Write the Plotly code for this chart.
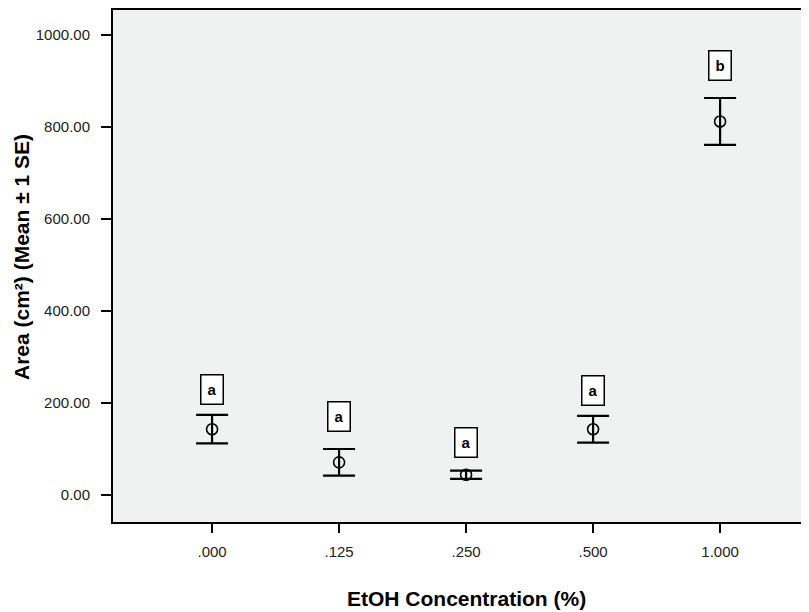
import plotly.graph_objects as go

categories = [".000", ".125", ".250", ".500", "1.000"]
means = [143, 71, 44, 143, 812]
se = [31, 29, 9, 29, 51]
letters = ["a", "a", "a", "a", "b"]
letter_y = [230, 170, 114, 228, 933]
y_ticks = [0, 200, 400, 600, 800, 1000]

FONT = "Liberation Sans, Arial, Helvetica, sans-serif"

fig = go.Figure()
fig.add_trace(go.Scatter(
    x=categories, y=means, mode="markers",
    marker=dict(symbol="circle-open", size=11, color="black", line=dict(width=1.6, color="black")),
    error_y=dict(type="data", array=se, symmetric=True, color="black", thickness=2.2, width=16),
    showlegend=False, hoverinfo="skip",
))

for i, (l, yv) in enumerate(zip(letters, letter_y)):
    fig.add_annotation(
        x=i, y=yv, xref="x", yref="y", text="<b>%s</b>" % l, showarrow=False,
        font=dict(family=FONT, size=15, color="black"),
        bgcolor="white", bordercolor="black", borderwidth=1.5, borderpad=3,
        width=15, height=22, xanchor="center", yanchor="middle",
    )

fig.add_annotation(
    x=2, y=-0.150, xref="x", yref="paper", text="<b>EtOH Concentration (%)</b>",
    showarrow=False, font=dict(family=FONT, size=21, color="black"),
    xanchor="center", yanchor="middle",
)
fig.add_annotation(
    x=-0.1307, y=0.5176, xref="paper", yref="paper", text="<b>Area (cm²) (Mean ± 1 SE)</b>",
    showarrow=False, textangle=-90, font=dict(family=FONT, size=21, color="black"),
    xanchor="center", yanchor="middle",
)

fig.update_layout(
    width=801, height=604,
    margin=dict(l=105, r=0, t=2, b=90, autoexpand=False),
    paper_bgcolor="white", plot_bgcolor="#F0F1F1",
    font=dict(family=FONT, size=15, color="#222"),
)
fig.update_xaxes(
    type="category", categoryorder="array", categoryarray=categories,
    range=[-0.78, 4.70], showgrid=False, zeroline=False,
    showline=True, linecolor="black", linewidth=2, mirror=True,
    ticks="outside", ticklen=9, tickwidth=2, tickcolor="black",
    ticklabelstandoff=6, tickfont=dict(size=15, color="#222"),
)
fig.update_yaxes(
    range=[-58.7, 1054.3], tickvals=y_ticks, tickformat=".2f",
    showgrid=False, zeroline=False,
    showline=True, linecolor="black", linewidth=2,
    ticks="outside", ticklen=10, tickwidth=2, tickcolor="black",
    ticklabelstandoff=8, tickfont=dict(size=15, color="#222"),
)

fig.write_html("out.html")
